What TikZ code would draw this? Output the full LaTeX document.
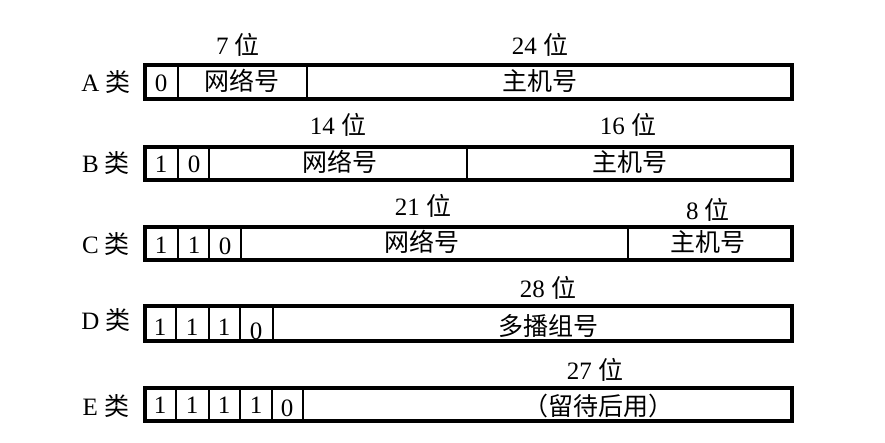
\documentclass[tikz,border=0pt]{standalone}
\usepackage{fontspec}
\setmainfont{Liberation Serif}
\newfontfamily\cjk{Noto Sans CJK SC}
\newcommand{\zh}[1]{{\cjk #1}}
\tikzset{
  frame/.style={line width=3.2pt},
  sep/.style={line width=2.4pt},
  txt/.style={font=\fontsize{25}{27}\selectfont, inner sep=0pt},
}
\begin{document}
\begin{tikzpicture}[x=1pt,y=-1pt]
        \useasboundingbox[fill=white] (0,0) rectangle (885,443);

        % Class A
        \draw[frame] (145,65) rectangle (792,99);
        \draw[sep] (178,65) -- (178,99);
        \draw[sep] (307,65) -- (307,99);
        \node[txt] (aName) at (106,82) {A \zh{类}};
        \node[txt] (aBit) at (161,83) {0};
        \node[txt] (aNet) at (242,81) {\zh{网络号}};
        \node[txt] (aHost) at (540,81) {\zh{主机号}};
        \node[txt] (aNetLen) at (238,45) {7 \zh{位}};
        \node[txt] (aHostLen) at (540,45) {24 \zh{位}};

        % Class B
        \draw[frame] (145,147) rectangle (792,180);
        \draw[sep] (178,147) -- (178,180);
        \draw[sep] (209,147) -- (209,180);
        \draw[sep] (467,147) -- (467,180);
        \node[txt] (bName) at (106,163) {B \zh{类}};
        \node[txt] (bBitA) at (161,164) {1};
        \node[txt] (bBitB) at (194,164) {0};
        \node[txt] (bNet) at (340,162) {\zh{网络号}};
        \node[txt] (bHost) at (630,162) {\zh{主机号}};
        \node[txt] (bNetLen) at (338,125) {14 \zh{位}};
        \node[txt] (bHostLen) at (628,125) {16 \zh{位}};

        % Class C
        \draw[frame] (145,227) rectangle (792,260);
        \draw[sep] (178,227) -- (178,260);
        \draw[sep] (209,227) -- (209,260);
        \draw[sep] (241,227) -- (241,260);
        \draw[sep] (628,227) -- (628,262);
        \node[txt] (cName) at (106,244) {C \zh{类}};
        \node[txt] (cBitA) at (161,245) {1};
        \node[txt] (cBitB) at (194,245) {1};
        \node[txt] (cBitC) at (225,246) {0};
        \node[txt] (cNet) at (422,242) {\zh{网络号}};
        \node[txt] (cHost) at (708,242) {\zh{主机号}};
        \node[txt] (cNetLen) at (423,206) {21 \zh{位}};
        \node[txt] (cHostLen) at (708,210) {8 \zh{位}};

        % Class D
        \draw[frame] (145,306) rectangle (792,341);
        \draw[sep] (176,306) -- (176,341);
        \draw[sep] (209,306) -- (209,341);
        \draw[sep] (240,306) -- (240,341);
        \draw[sep] (273,306) -- (273,341);
        \node[txt] (dName) at (106,320) {D \zh{类}};
        \node[txt] (dBitA) at (160,327) {1};
        \node[txt] (dBitB) at (192,327) {1};
        \node[txt] (dBitC) at (224,327) {1};
        \node[txt] (dBitD) at (256,331) {0};
        \node[txt] (dGroup) at (548,326) {\zh{多播组号}};
        \node[txt] (dGroupLen) at (548,288) {28 \zh{位}};

        % Class E
        \draw[frame] (145,388) rectangle (792,421);
        \draw[sep] (176,388) -- (176,421);
        \draw[sep] (209,388) -- (209,421);
        \draw[sep] (240,388) -- (240,421);
        \draw[sep] (272,388) -- (272,421);
        \draw[sep] (303,388) -- (303,421);
        \node[txt] (eName) at (106,406) {E \zh{类}};
        \node[txt] (eBitA) at (160,405) {1};
        \node[txt] (eBitB) at (192,405) {1};
        \node[txt] (eBitC) at (224,405) {1};
        \node[txt] (eBitD) at (256,405) {1};
        \node[txt] (eBitE) at (287,408) {0};
        \node[txt] (eRsv) at (598,406) {\zh{（留待后用）}};
        \node[txt] (eRsvLen) at (595,370) {27 \zh{位}};
    \end{tikzpicture}
\end{document}
